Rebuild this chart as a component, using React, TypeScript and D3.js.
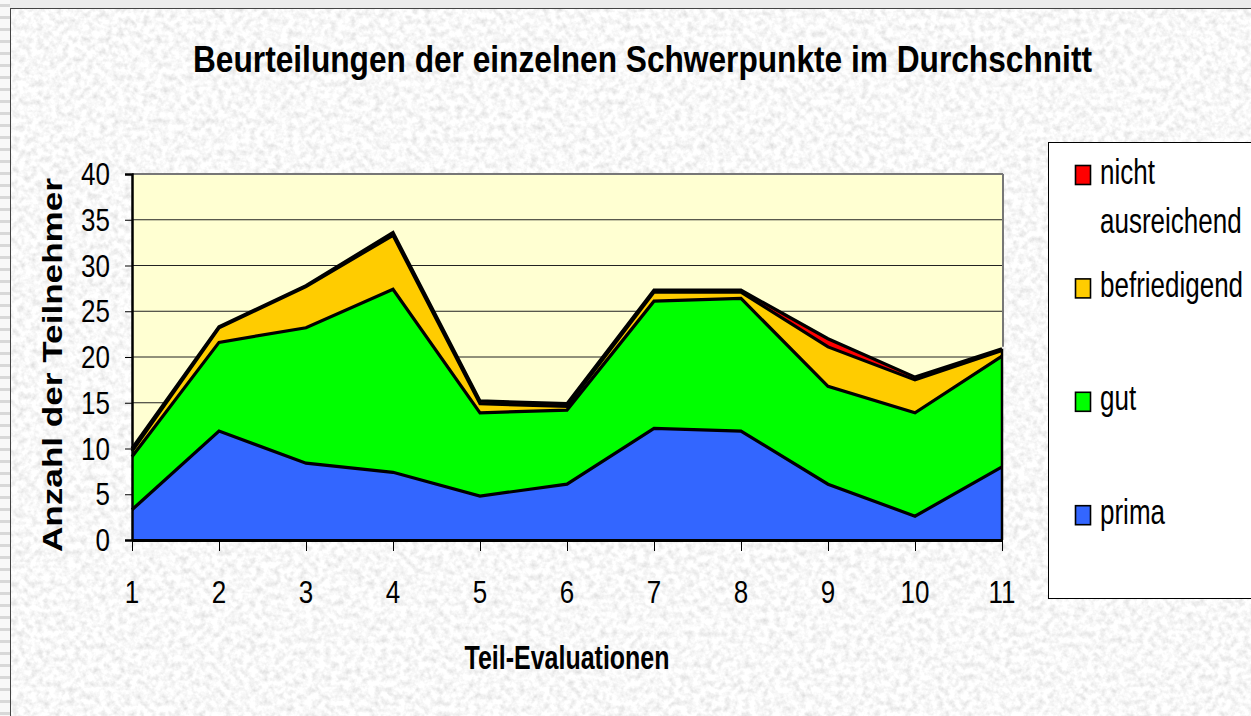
import * as d3 from 'd3';
import { useEffect, useRef } from 'react';

const categories = ['1', '2', '3', '4', '5', '6', '7', '8', '9', '10', '11'];
const prima = [3.3, 11.9, 8.4, 7.4, 4.8, 6.1, 12.2, 11.9, 6.1, 2.6, 8.0];
const gut = [5.8, 9.7, 14.8, 20.0, 9.1, 8.1, 13.9, 14.5, 10.7, 11.3, 12.1];
const befriedigend = [0.6, 1.6, 4.5, 5.9, 1.0, 0.4, 1.0, 0.7, 4.3, 3.6, 0.6];
const nichtAusreichend = [0.3, 0.1, 0.1, 0.3, 0.3, 0.3, 0.2, 0.2, 0.9, 0.3, 0.2];
const yTicks = [0, 5, 10, 15, 20, 25, 30, 35, 40];

const seriesKeys = ['prima', 'gut', 'befriedigend', 'nicht'];
const seriesColors = ['#3366ff', '#00ff00', '#ffcc00', '#ff0000'];
// legend order top -> bottom
const legendItems = [
  { key: 'nicht', lines: ['nicht', 'ausreichend'], color: '#ff0000' },
  { key: 'befriedigend', lines: ['befriedigend'], color: '#ffcc00' },
  { key: 'gut', lines: ['gut'], color: '#00ff00' },
  { key: 'prima', lines: ['prima'], color: '#3366ff' },
];

const FONT = '"Liberation Sans", Arial, sans-serif';

// text drawn stretched vertically like the original raster
function stretchText(parent: any, x: number, y: number, str: string, size: number, sy: number, opts: any = {}) {
  const g = parent.append('g').attr('transform', `translate(${x},${y}) scale(1,${sy})`);
  const t = g.append('text')
    .attr('x', 0)
    .attr('y', 0)
    .attr('font-family', FONT)
    .attr('font-size', size)
    .attr('font-weight', opts.bold ? 'bold' : 'normal')
    .attr('text-anchor', opts.anchor || 'start')
    .attr('fill', '#000')
    .text(str);
  if (opts.length) t.attr('textLength', opts.length).attr('lengthAdjust', 'spacingAndGlyphs');
  return t;
}

export default function App() {
  const svgRef = useRef<SVGSVGElement | null>(null);

  useEffect(() => {
    document.body.style.margin = '0';
    if (!svgRef.current) return;
    const width = 1251;
    const height = 716;
    const plot = { left: 132, right: 1002, top: 174, bottom: 540 };

    const svg = d3.select(svgRef.current).html('').attr('width', width).attr('height', height);

    const defs = svg.append('defs');
    const filter = defs.append('filter').attr('id', 'marble')
      .attr('x', 0).attr('y', 0).attr('width', '100%').attr('height', '100%');
    filter.append('feTurbulence')
      .attr('type', 'fractalNoise')
      .attr('baseFrequency', 0.16)
      .attr('numOctaves', 3)
      .attr('seed', 7)
      .attr('result', 'noise');
    filter.append('feColorMatrix')
      .attr('in', 'noise')
      .attr('type', 'matrix')
      .attr('values', '0.5 0 0 0 0.69  0.5 0 0 0 0.69  0.5 0 0 0 0.69  0 0 0 0 1');

    const stripes = defs.append('pattern').attr('id', 'stripes')
      .attr('patternUnits', 'userSpaceOnUse').attr('width', 10).attr('height', 12);
    stripes.append('rect').attr('width', 10).attr('height', 12).attr('fill', '#f8f8f8');
    stripes.append('rect').attr('y', 4).attr('width', 10).attr('height', 3).attr('fill', '#d8d8d8');

    // page background
    svg.append('rect').attr('width', width).attr('height', height).attr('fill', '#ececec');
    svg.append('rect').attr('x', 0).attr('y', 0).attr('width', 10).attr('height', height).attr('fill', 'url(#stripes)');
    // chart area with texture
    svg.append('rect').attr('x', 10).attr('y', 8).attr('width', width).attr('height', height)
      .attr('filter', 'url(#marble)');
    svg.append('rect').attr('x', 10.5).attr('y', 8.5).attr('width', width + 10).attr('height', height + 10)
      .attr('fill', 'none').attr('stroke', '#444').attr('stroke-width', 1);

    const x = d3.scalePoint<string>().domain(categories).range([plot.left, plot.right]);
    const y = d3.scaleLinear().domain([0, 40]).range([plot.bottom, plot.top]);

    // plot background
    svg.append('rect')
      .attr('x', plot.left).attr('y', plot.top)
      .attr('width', plot.right - plot.left).attr('height', plot.bottom - plot.top)
      .attr('fill', '#ffffd2');

    // gridlines
    svg.append('g').selectAll('line')
      .data(yTicks.filter(t => t > 0 && t < 40))
      .enter().append('line')
      .attr('x1', plot.left).attr('x2', plot.right)
      .attr('y1', d => y(d)).attr('y2', d => y(d))
      .attr('stroke', '#222').attr('stroke-width', 1);

    // stacked areas
    const rows = categories.map((c, i) => ({
      cat: c,
      prima: prima[i],
      gut: gut[i],
      befriedigend: befriedigend[i],
      nicht: nichtAusreichend[i],
    }));
    const stacked = d3.stack<any>().keys(seriesKeys)(rows);
    const area = d3.area<any>()
      .x(d => x(d.data.cat) as number)
      .y0(d => y(d[0]))
      .y1(d => y(d[1]));
    const topLine = d3.line<any>()
      .x(d => x(d.data.cat) as number)
      .y(d => y(d[1]));

    stacked.forEach((s, i) => {
      svg.append('path')
        .datum(s)
        .attr('d', area)
        .attr('fill', seriesColors[i])
        .attr('stroke', 'none');
    });
    stacked.forEach((s) => {
      svg.append('path')
        .datum(s)
        .attr('d', topLine)
        .attr('fill', 'none')
        .attr('stroke', '#000')
        .attr('stroke-width', 3.2)
        .attr('stroke-linejoin', 'miter');
    });
    // right edge of the areas
    const last = stacked[stacked.length - 1];
    svg.append('line')
      .attr('x1', plot.right).attr('x2', plot.right)
      .attr('y1', y(0)).attr('y2', y(last[last.length - 1][1]))
      .attr('stroke', '#000').attr('stroke-width', 2.5);

    // plot frame: top and right gray
    svg.append('line').attr('x1', plot.left).attr('x2', plot.right + 1)
      .attr('y1', plot.top).attr('y2', plot.top).attr('stroke', '#777').attr('stroke-width', 2);
    svg.append('line').attr('x1', plot.right + 1).attr('x2', plot.right + 1)
      .attr('y1', plot.top).attr('y2', y(last[last.length - 1][1]) - 2).attr('stroke', '#777').attr('stroke-width', 2);

    // Y axis
    const yAxis = svg.append('g')
      .attr('transform', `translate(${plot.left},0)`)
      .call(d3.axisLeft(y).tickValues(yTicks).tickSize(7).tickFormat(d3.format('d')));
    yAxis.select('.domain').attr('stroke', '#000').attr('stroke-width', 2.5);
    yAxis.selectAll('.tick line').attr('stroke', '#000').attr('stroke-width', 1);
    yAxis.selectAll('.tick text').remove();
    yTicks.forEach(t => {
      stretchText(svg, 110, y(t) + 11, String(t), 26, 1.2, { anchor: 'end' });
    });

    // X axis
    const xAxis = svg.append('g')
      .attr('transform', `translate(0,${plot.bottom})`)
      .call(d3.axisBottom(x).tickSize(11).tickSizeOuter(0));
    xAxis.select('.domain').attr('stroke', '#000').attr('stroke-width', 3);
    xAxis.selectAll('.tick line').attr('stroke', '#000').attr('stroke-width', 1);
    xAxis.selectAll('.tick text').remove();
    categories.forEach(c => {
      stretchText(svg, x(c) as number, 603, c, 26, 1.2, { anchor: 'middle' });
    });

    // Titles
    stretchText(svg, 642.5, 72, 'Beurteilungen der einzelnen Schwerpunkte im Durchschnitt', 28, 1.35,
      { anchor: 'middle', bold: true, length: 899 });
    stretchText(svg, 567, 669, 'Teil-Evaluationen', 25, 1.32, { anchor: 'middle', bold: true, length: 205 });
    svg.append('text')
      .attr('transform', `translate(62,365) rotate(-90)`)
      .attr('font-family', FONT)
      .attr('font-size', 27)
      .attr('font-weight', 'bold')
      .attr('text-anchor', 'middle')
      .attr('textLength', 374)
      .attr('lengthAdjust', 'spacingAndGlyphs')
      .text('Anzahl der Teilnehmer');

    // Legend
    const legend = svg.append('g');
    legend.append('rect')
      .attr('x', 1048.5).attr('y', 142.5)
      .attr('width', 260).attr('height', 456)
      .attr('fill', '#fff').attr('stroke', '#000').attr('stroke-width', 1);
    legendItems.forEach((item, i) => {
      const cy = 175 + i * 113.4;
      legend.append('rect')
        .attr('x', 1075.5).attr('y', cy - 9.5)
        .attr('width', 15).attr('height', 19)
        .attr('fill', item.color).attr('stroke', '#000').attr('stroke-width', 1.6);
      item.lines.forEach((ln, j) => {
        stretchText(legend, 1100, cy + 8.5 + j * 49, ln, 26, 1.33);
      });
    });
  }, []);

  return <svg ref={svgRef} style={{ position: 'absolute', left: 0, top: 0, display: 'block' }} />;
}
